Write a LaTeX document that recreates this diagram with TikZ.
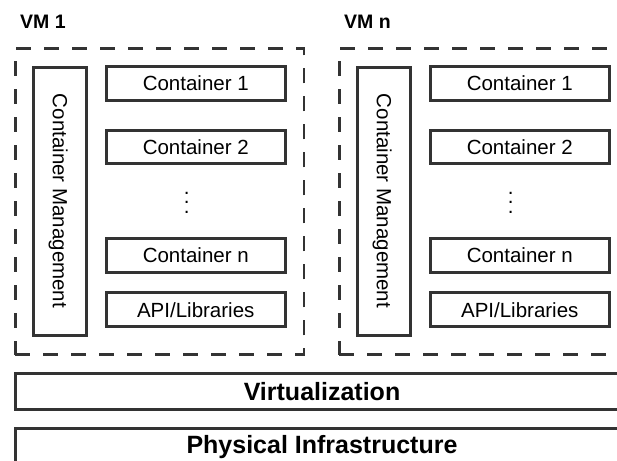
\documentclass[tikz,border=0pt]{standalone}
\usepackage{fontspec}
\setmainfont{Liberation Sans}
\definecolor{linegray}{HTML}{333333}
\begin{document}
\begin{tikzpicture}[x=1pt,y=-1pt,
  box/.style={draw=linegray, line width=3pt, rectangle, inner sep=0pt},
  cbox/.style={box, minimum width=178.5pt, minimum height=33.5pt,
    font=\fontsize{20.5}{24}\selectfont, text height=14.7pt, text depth=0pt},
  mgmt/.style={box, rotate=-90, minimum width=268pt, minimum height=52.7pt,
    font=\fontsize{20.5}{24}\selectfont, text height=14.7pt, text depth=0pt},
  vmframe/.style={draw=linegray, line width=2.5pt, dash pattern=on 15pt off 13pt,
    rectangle, inner sep=0pt, minimum width=288.7pt, minimum height=306pt},
  vmlabel/.style={anchor=base west, inner sep=0pt,
    font=\fontsize{19.5}{23}\selectfont\bfseries},
  layer/.style={box, minimum width=612.4pt, minimum height=35.2pt,
    font=\fontsize{25}{30}\selectfont\bfseries, text height=17.9pt},
  vdotsnode/.style={inner sep=0pt, font=\fontsize{20.5}{24}\selectfont}
]
\useasboundingbox (0,0) rectangle (617,460);

% one virtual machine per column, the second shifted right
\foreach \i/\dx/\name in {1/0/VM 1, n/324/VM n}{
  \node[vmlabel] (vmlab\i) at (20+\dx, 28.3) {\name};
  \node[vmframe] (vm\i) at (159.65+\dx, 201.7) {};
  \node[mgmt] (cm\i) at (60.3+\dx, 201) {Container Management};
  \node[cbox] (c1\i) at (195.75+\dx, 83.5) {Container 1};
  \node[cbox] (c2\i) at (195.75+\dx, 147) {Container 2};
  \node[vdotsnode] (dots\i) at (186.7+\dx, 202.5)
    {\vbox{\baselineskip9.5pt\lineskiplimit0pt\hbox{.}\hbox{.}\hbox{.}}};
  \node[cbox] (cn\i) at (195.75+\dx, 255.5) {Container n};
  \node[cbox] (api\i) at (195.75+\dx, 309.7) {API/Libraries};
}

% shared layers underneath
\node[layer, text depth=0pt] (virt) at (322, 391.4) {Virtualization};
\node[layer, text depth=3.4pt] (phys) at (322, 445.9) {Physical Infrastructure};
\end{tikzpicture}
\end{document}
